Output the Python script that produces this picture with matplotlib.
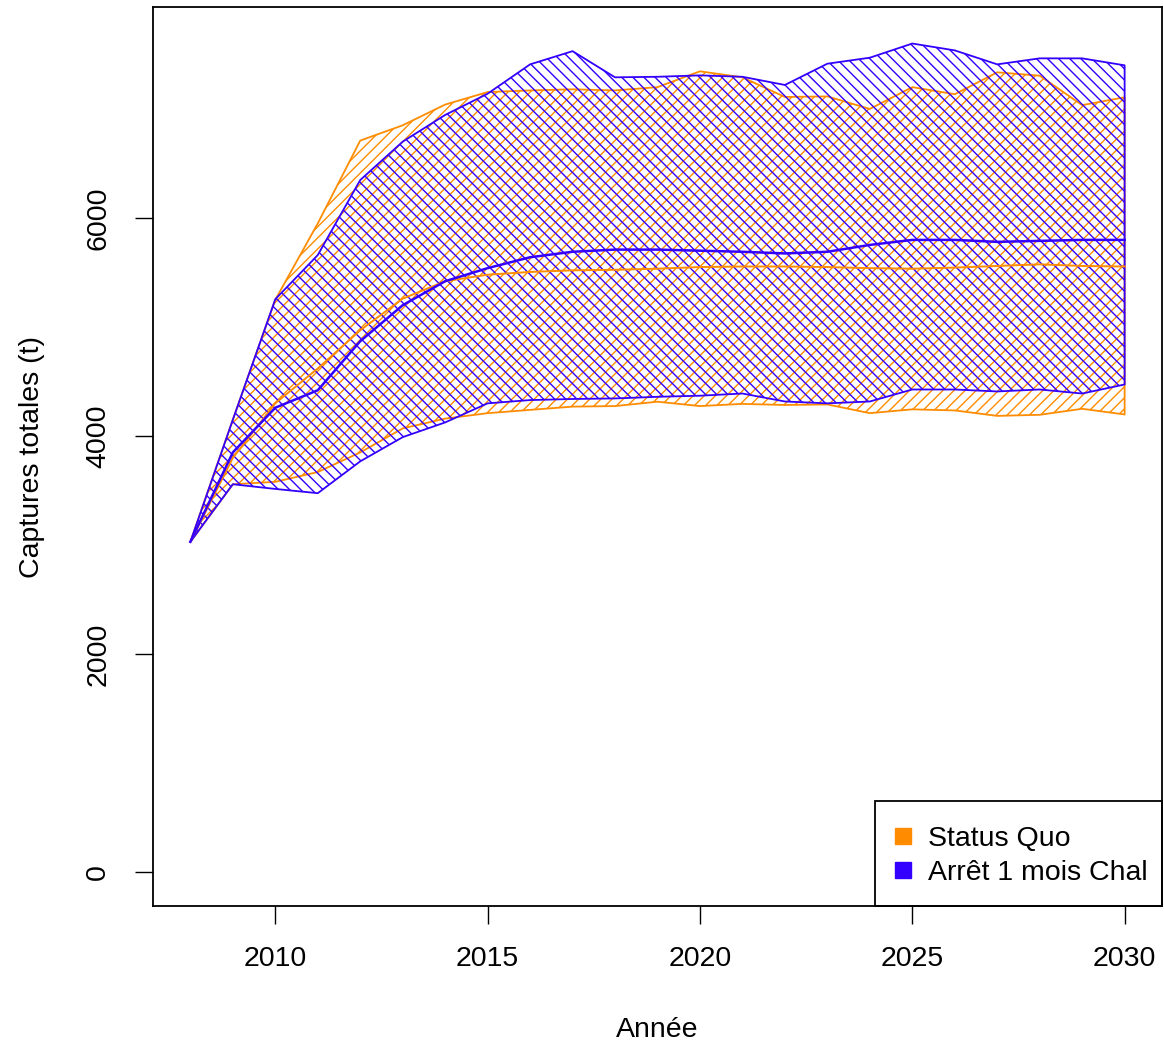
import matplotlib
matplotlib.use("Agg")
import matplotlib.pyplot as plt
from matplotlib.lines import Line2D
from matplotlib.patches import Rectangle
import numpy as np

plt.rcParams['font.family'] = ['Liberation Sans', 'DejaVu Sans']
plt.rcParams['hatch.linewidth'] = 1.0

years = list(range(2008, 2031))

sq_upper = [3030, 4150, 5250, 5950, 6710, 6850, 7040, 7155, 7170, 7180, 7170, 7200,
            7345, 7290, 7110, 7115, 7000, 7200, 7135, 7336, 7305, 7035, 7107]
sq_lower = [3030, 3558, 3580, 3670, 3850, 4070, 4160, 4210, 4240, 4270, 4275, 4315,
            4275, 4295, 4285, 4290, 4210, 4245, 4235, 4185, 4195, 4250, 4198]
sq_median = [3030, 3800, 4300, 4620, 4970, 5260, 5420, 5480, 5505, 5520, 5525, 5535,
             5550, 5555, 5555, 5550, 5540, 5535, 5545, 5560, 5575, 5560, 5555]

ar_upper = [3030, 4150, 5255, 5660, 6348, 6700, 6945, 7140, 7409, 7530, 7290, 7295,
            7308, 7295, 7220, 7415, 7470, 7600, 7537, 7409, 7464, 7464, 7400]
ar_lower = [3030, 3558, 3515, 3476, 3768, 3990, 4125, 4300, 4330, 4340, 4345, 4360,
            4370, 4390, 4317, 4300, 4317, 4427, 4427, 4409, 4427, 4390, 4473]
ar_median = [3030, 3850, 4260, 4420, 4870, 5200, 5420, 5540, 5640, 5690, 5710, 5710,
             5700, 5690, 5675, 5690, 5753, 5799, 5799, 5781, 5790, 5799, 5799]

labels = ["Status Quo", "Arrêt 1 mois Chal"]
col_sq = '#FF8C00'
col_ar = '#3300FF'

x_ticks = [2010, 2015, 2020, 2025, 2030]
y_ticks = [0, 2000, 4000, 6000]

fig = plt.figure(figsize=(11.64, 10.45), dpi=100)
ax = fig.add_axes([153/1164, 1 - 906/1045, (1162 - 153)/1164, (906 - 7)/1045])

ax.fill_between(years, sq_lower, sq_upper, facecolor='none', edgecolor=col_sq,
                hatch='///', linewidth=1.3)
ax.fill_between(years, ar_lower, ar_upper, facecolor='none', edgecolor=col_ar,
                hatch='\\\\\\', linewidth=1.3)
ax.plot(years, sq_median, color=col_sq, lw=1.4)
ax.plot(years, ar_median, color=col_ar, lw=1.8)

ax.set_xlim(2007.12, 2030.88)
ax.set_ylim(-310, 7935)
ax.set_xticks(x_ticks)
ax.set_yticks(y_ticks)
ax.set_yticklabels([str(v) for v in y_ticks], rotation=90, va='center')
ax.tick_params(axis='both', labelsize=20.5, length=13, width=1.0, direction='out')
ax.tick_params(axis='x', pad=16)
ax.tick_params(axis='y', pad=17)
for s in ax.spines.values():
    s.set_linewidth(1.3)
    s.set_zorder(6)

ax.set_xlabel("Année", fontsize=20.5, labelpad=32)
ax.set_ylabel("Captures totales (t)", fontsize=20.5, labelpad=29)

# legend box (frame drawn separately so it sits flush in the corner)
box_x0 = (875 - 153) / 1009
box_h = 105 / 899
ax.add_patch(Rectangle((box_x0, 0), 1 - box_x0, box_h, transform=ax.transAxes,
                       facecolor='white', edgecolor='black', linewidth=1.3,
                       zorder=4, clip_on=False))

handles = [Line2D([], [], marker='s', linestyle='none', markersize=12,
                  markerfacecolor=col_sq, markeredgecolor=col_sq),
           Line2D([], [], marker='s', linestyle='none', markersize=12,
                  markerfacecolor=col_ar, markeredgecolor=col_ar)]
leg = ax.legend(handles, labels, loc='lower right', bbox_to_anchor=(1 + 6/1009, 0),
                borderaxespad=0, fontsize=20.5, frameon=False,
                handlelength=0.4, handletextpad=0.7, borderpad=0.7, labelspacing=0.3)
leg.set_zorder(5)

fig.savefig("out.png", dpi=100)
